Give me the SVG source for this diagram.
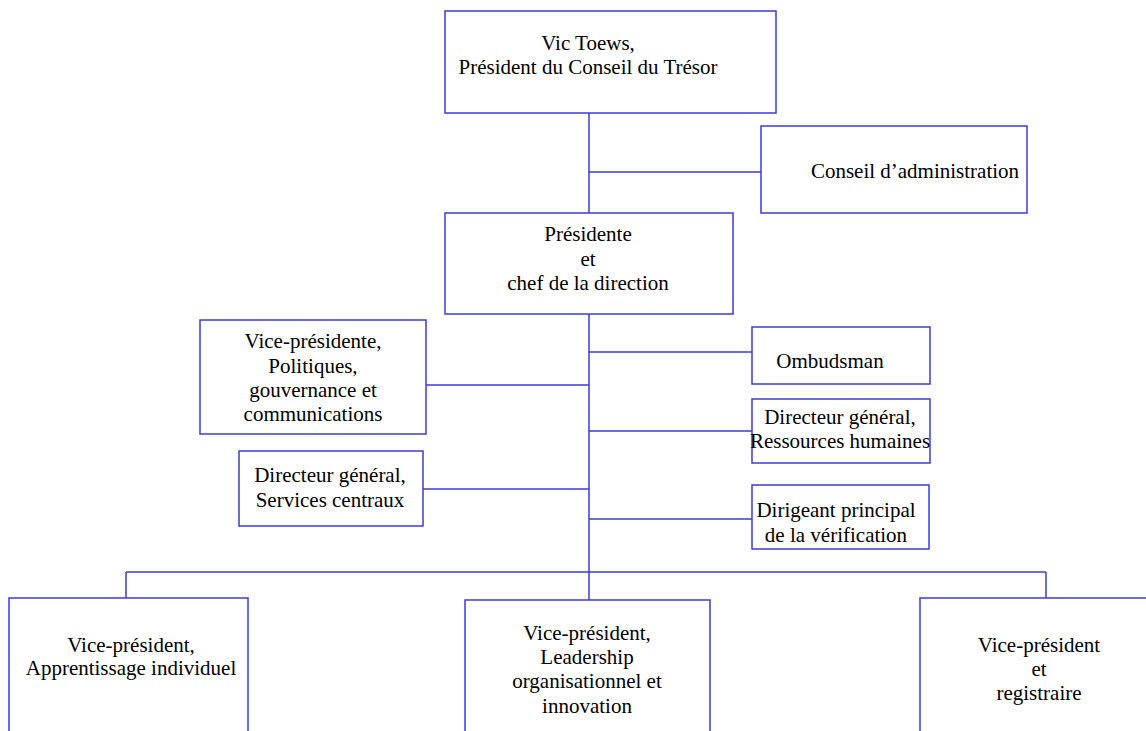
<svg xmlns="http://www.w3.org/2000/svg" width="1146" height="731" viewBox="0 0 1146 731" font-family="'Liberation Serif', 'DejaVu Serif', serif">
<style>
.box{fill:#fff;stroke:#3c3cd6;stroke-width:1.5}
.ln{fill:none;stroke:#3c3cd6;stroke-width:1.5}
.t{font-family:'Liberation Serif','DejaVu Serif',serif;font-size:21px;fill:#000;text-anchor:middle}
</style>
<rect width="1146" height="731" fill="#fff"/>
<g id="connectors">
<path class="ln" d="M589 113V213M589 172H761M589 314V572M426 385H589M423 489H589M589 352H752M589 431H752M589 519H752M126 572H1046M126 572V598M589 572V600M1046 572V598"/>
</g>
<g id="n-toews" class="t">
<rect class="box" x="445" y="11" width="331" height="102"/>
<text x="588" y="50">Vic Toews,</text>
<text x="588" y="74">Président du Conseil du Trésor</text>
</g>
<g id="n-conseil" class="t">
<rect class="box" x="761" y="126" width="266" height="87"/>
<text x="915" y="178">Conseil d’administration</text>
</g>
<g id="n-presidente" class="t">
<rect class="box" x="445" y="213" width="288" height="101"/>
<text x="588" y="241">Présidente</text>
<text x="588" y="266">et</text>
<text x="588" y="290">chef de la direction</text>
</g>
<g id="n-vp-politiques" class="t">
<rect class="box" x="200" y="320" width="226" height="114"/>
<text x="313" y="348">Vice-présidente,</text>
<text x="313" y="373">Politiques,</text>
<text x="313" y="397">gouvernance et</text>
<text x="313" y="421">communications</text>
</g>
<g id="n-dg-services" class="t">
<rect class="box" x="239" y="451" width="184" height="75"/>
<text x="330" y="482">Directeur général,</text>
<text x="330" y="507">Services centraux</text>
</g>
<g id="n-ombudsman" class="t">
<rect class="box" x="752" y="327" width="178" height="57"/>
<text x="830" y="368">Ombudsman</text>
</g>
<g id="n-dg-rh" class="t">
<rect class="box" x="752" y="399" width="178" height="64"/>
<text x="840" y="424">Directeur général,</text>
<text x="840" y="448">Ressources humaines</text>
</g>
<g id="n-verification" class="t">
<rect class="box" x="752" y="485" width="177" height="64"/>
<text x="836" y="517">Dirigeant principal</text>
<text x="836" y="542">de la vérification</text>
</g>
<g id="n-vp-apprentissage" class="t">
<rect class="box" x="9" y="598" width="239" height="140"/>
<text x="131" y="652">Vice-président,</text>
<text x="131" y="675">Apprentissage individuel</text>
</g>
<g id="n-vp-leadership" class="t">
<rect class="box" x="465" y="600" width="245" height="140"/>
<text x="587" y="640">Vice-président,</text>
<text x="587" y="664">Leadership</text>
<text x="587" y="688">organisationnel et</text>
<text x="587" y="713">innovation</text>
</g>
<g id="n-vp-registraire" class="t">
<rect class="box" x="920" y="598" width="240" height="140"/>
<text x="1039" y="652">Vice-président</text>
<text x="1039" y="676">et</text>
<text x="1039" y="700">registraire</text>
</g>
</svg>
